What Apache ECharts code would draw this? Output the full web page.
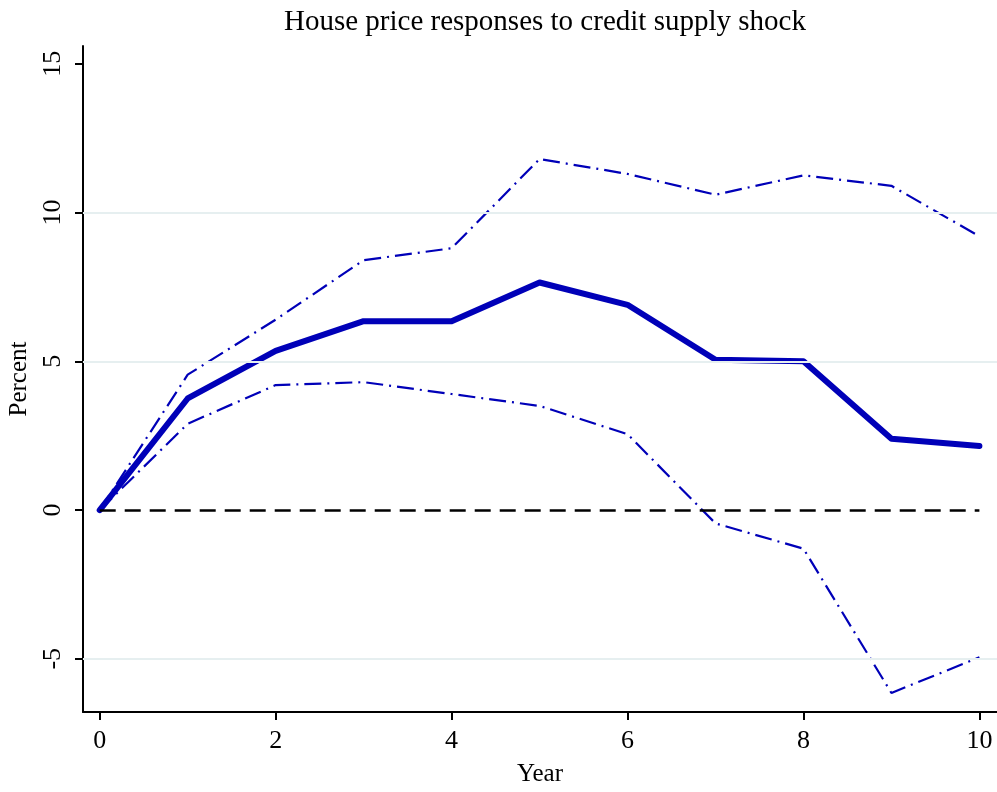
<!DOCTYPE html>
<html>
<head>
<meta charset="utf-8">
<script src="https://cdn.jsdelivr.net/npm/echarts@6/dist/echarts.min.js"></script>
<style>
  html, body { margin: 0; padding: 0; background: #fff; }
  #chart { width: 997px; height: 792px; }
</style>
</head>
<body>
<div id="chart"></div>
<script>
const years = [0, 1, 2, 3, 4, 5, 6, 7, 8, 9, 10];
const response = [0, 3.75, 5.35, 6.35, 6.35, 7.65, 6.9, 5.05, 5.0, 2.4, 2.15];
const upperBand = [0, 4.55, 6.4, 8.4, 8.8, 11.8, 11.3, 10.6, 11.25, 10.9, 9.2];
const lowerBand = [0, 2.9, 4.2, 4.3, 3.9, 3.5, 2.55, -0.45, -1.3, -6.15, -4.95];
const yTicks = [-5, 0, 5, 10, 15];
const xTicks = [0, 2, 4, 6, 8, 10];

const BLUE = '#0000b8';
const FONT = '"Liberation Serif", "DejaVu Serif", serif';

const pairs = arr => years.map((x, i) => [x, arr[i]]);

const chart = echarts.init(document.getElementById('chart'));

chart.setOption({
    animation: false,
    backgroundColor: '#fff',
    title: {
        text: 'House price responses to credit supply shock',
        left: 279,
        top: 3,
        textStyle: { fontFamily: FONT, fontSize: 29, fontWeight: 'normal', color: '#000' }
    },
    grid: { left: 83, right: 0, top: 46, bottom: 80, outerBoundsMode: 'none', containLabel: false },
    xAxis: {
        type: 'value',
        min: -0.19,
        max: 10.2,
        name: 'Year',
        nameLocation: 'middle',
        nameGap: 50,
        nameTextStyle: { fontFamily: FONT, fontSize: 25, color: '#000' },
        axisLine: { show: true, onZero: false, lineStyle: { color: '#000', width: 2 } },
        axisTick: { show: true, length: 8, customValues: xTicks, lineStyle: { color: '#000', width: 2 } },
        axisLabel: { customValues: xTicks, fontFamily: FONT, fontSize: 26, color: '#000', margin: 16 },
        splitLine: { show: false }
    },
    yAxis: {
        type: 'value',
        min: -6.79,
        max: 15.6,
        name: 'Percent',
        nameLocation: 'middle',
        nameGap: 45,
        nameRotate: 90,
        nameTextStyle: { fontFamily: FONT, fontSize: 25, color: '#000' },
        axisLine: { show: true, onZero: false, lineStyle: { color: '#000', width: 2 } },
        axisTick: { show: true, length: 8, customValues: yTicks, lineStyle: { color: '#000', width: 2 } },
        axisLabel: { customValues: yTicks, rotate: 90, fontFamily: FONT, fontSize: 26, color: '#000', margin: 17 },
        splitLine: { show: false }
    },
    series: [
        {
            name: 'grid',
            type: 'line',
            data: [],
            silent: true,
            markLine: {
                silent: true,
                symbol: 'none',
                label: { show: false },
                lineStyle: { color: '#e6eff0', width: 2, type: 'solid' },
                data: [{ yAxis: -5 }, { yAxis: 5 }, { yAxis: 10 }]
            }
        },
        {
            name: 'zero',
            type: 'line',
            data: [],
            silent: true,
            markLine: {
                silent: true,
                symbol: 'none',
                label: { show: false },
                lineStyle: { color: '#000', width: 2.5, type: [16, 9] },
                data: [[{ coord: [0, 0] }, { coord: [10, 0] }]]
            }
        },
        {
            name: 'Upper',
            type: 'line',
            data: pairs(upperBand),
            symbol: 'none',
            lineStyle: { color: BLUE, width: 2.2, type: [17, 6, 2, 6] },
            z: 3
        },
        {
            name: 'Lower',
            type: 'line',
            data: pairs(lowerBand),
            symbol: 'none',
            lineStyle: { color: BLUE, width: 2.2, type: [17, 6, 2, 6] },
            z: 3
        },
        {
            name: 'Response',
            type: 'line',
            data: pairs(response),
            symbol: 'none',
            lineStyle: { color: BLUE, width: 6, cap: 'round', join: 'round' },
            z: 4
        }
    ]
});
</script>
</body>
</html>
